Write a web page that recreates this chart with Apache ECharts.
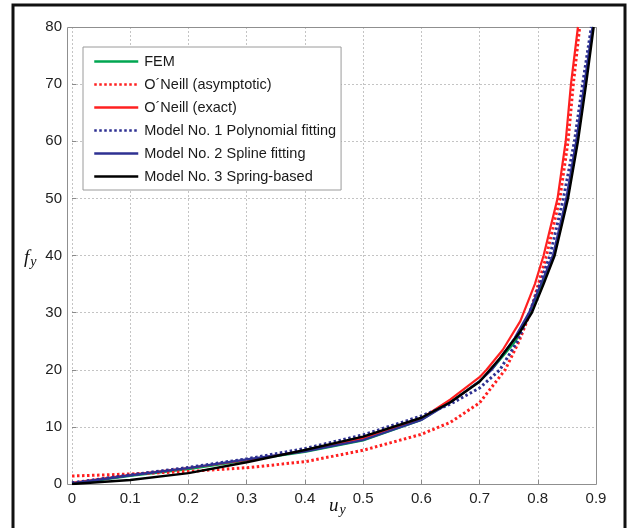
<!DOCTYPE html>
<html>
<head>
<meta charset="utf-8">
<title>f_y vs u_y</title>
<script src="https://cdn.jsdelivr.net/npm/echarts@6/dist/echarts.min.js"></script>
<style>
    html, body { margin: 0; padding: 0; background: #fff; }
    #chart { width: 627px; height: 528px; }
</style>
</head>
<body>
<div id="chart"></div>
<script>
    // curve data, [u_y, f_y]
    var femPts = [[0, 0], [0.1, 1.4], [0.2, 2.6], [0.3, 4.1], [0.4, 5.6], [0.5, 7.6], [0.6, 11.2], [0.65, 14.4], [0.7, 18.0], [0.725, 20.5], [0.762, 25], [0.787, 30], [0.827, 40], [0.851, 50], [0.868, 60], [0.882, 70], [0.895, 80]];
    var asymPts = [[0, 1.4], [0.1, 1.75], [0.2, 2.2], [0.3, 2.85], [0.4, 3.9], [0.5, 5.9], [0.6, 8.7], [0.65, 10.8], [0.7, 14.2], [0.744, 20], [0.768, 25], [0.787, 30], [0.815, 40], [0.838, 50], [0.852, 60], [0.861, 70], [0.872, 80]];
    var exactPts = [[0, 0.2], [0.1, 1.6], [0.2, 2.8], [0.3, 4.2], [0.4, 5.8], [0.5, 8.0], [0.6, 11.5], [0.65, 14.8], [0.7, 18.7], [0.712, 20], [0.74, 23.5], [0.77, 28.5], [0.795, 35], [0.81, 40], [0.834, 50], [0.848, 60], [0.857, 70], [0.869, 80]];
    var model1Pts = [[0, 0.2], [0.1, 1.6], [0.2, 2.9], [0.3, 4.4], [0.4, 6.2], [0.5, 8.6], [0.6, 11.9], [0.65, 14.0], [0.7, 16.8], [0.735, 20], [0.765, 25], [0.786, 30], [0.821, 40], [0.844, 50], [0.863, 60], [0.877, 70], [0.892, 80]];
    var model2Pts = [[0, 0.1], [0.1, 1.5], [0.2, 2.8], [0.3, 4.3], [0.4, 5.7], [0.5, 7.7], [0.6, 11.2], [0.65, 14.3], [0.7, 18.0], [0.721, 20], [0.76, 25.5], [0.785, 30], [0.826, 40], [0.849, 50], [0.866, 60], [0.880, 70], [0.894, 80]];
    var model3Pts = [[0, 0], [0.1, 0.7], [0.2, 1.9], [0.3, 3.8], [0.4, 5.95], [0.5, 8.3], [0.6, 11.6], [0.65, 14.3], [0.7, 17.9], [0.735, 22], [0.77, 26.7], [0.79, 30], [0.81, 35], [0.829, 40], [0.852, 50], [0.869, 60], [0.883, 70], [0.896, 80]];

    var seriesNames = ['FEM', 'O\u00B4Neill (asymptotic)', 'O\u00B4Neill (exact)', 'Model No. 1 Polynomial fitting', 'Model No. 2 Spline fitting', 'Model No. 3 Spring-based'];
    var xTicks = { min: 0, max: 0.9, step: 0.1 };
    var yTicks = { min: 0, max: 80, step: 10 };

    (function () {
        'use strict';

        var chart = echarts.init(document.getElementById('chart'));
        var labelFont = 'Liberation Sans, Arial, sans-serif';
        var mathFont = 'Liberation Serif, Times New Roman, serif';
        var dotted = [2.5, 2.5];

        function lineSeries(name, pts, color, type, width) {
            return {
                name: name,
                type: 'line',
                data: pts,
                symbol: 'none',
                smooth: false,
                lineStyle: { color: color, width: width, type: type, join: 'round' },
                itemStyle: { color: color }
            };
        }

        function mathLabel(main, sub, left, top) {
            return {
                type: 'text',
                silent: true,
                left: left,
                top: top,
                style: {
                    text: '{m|' + main + '}{s|' + sub + '}',
                    rich: {
                        m: { fontFamily: mathFont, fontStyle: 'italic', fontSize: 19, fill: '#111' },
                        s: { fontFamily: mathFont, fontStyle: 'italic', fontSize: 14, fill: '#111', padding: [10, 0, 0, 1] }
                    }
                }
            };
        }

        var option = {
            backgroundColor: '#fff',
            animation: false,
            grid: { left: 72, right: 31, top: 27, bottom: 44 },
            xAxis: {
                type: 'value',
                min: xTicks.min,
                max: xTicks.max,
                interval: xTicks.step,
                axisLine: { show: false },
                axisTick: { show: true, inside: true, length: 4, lineStyle: { color: '#8a8a8a' } },
                axisLabel: { color: '#222', fontFamily: labelFont, fontSize: 15, margin: 7 },
                splitLine: { show: true, lineStyle: { color: '#c4c4c4', type: [2, 2], width: 1 } }
            },
            yAxis: {
                type: 'value',
                min: yTicks.min,
                max: yTicks.max,
                interval: yTicks.step,
                axisLine: { show: false },
                axisTick: { show: true, inside: true, length: 4, lineStyle: { color: '#8a8a8a' } },
                axisLabel: { color: '#222', fontFamily: labelFont, fontSize: 15, margin: 10 },
                splitLine: { show: true, lineStyle: { color: '#c4c4c4', type: [2, 2], width: 1 } }
            },
            legend: {
                orient: 'vertical',
                left: 83,
                top: 47,
                padding: [7, 5, 6, 10],
                itemWidth: 44,
                itemHeight: 14,
                itemGap: 8,
                backgroundColor: '#fff',
                borderColor: '#9a9a9a',
                borderWidth: 1,
                borderRadius: 0,
                itemStyle: { opacity: 0 },
                lineStyle: { width: 2.5 },
                textStyle: { color: '#1a1a1a', fontFamily: labelFont, fontSize: 14.5, padding: [0, 0, 0, 1] },
                data: seriesNames
            },
            series: [
                lineSeries(seriesNames[0], femPts, '#00a651', 'solid', 2),
                lineSeries(seriesNames[1], asymPts, '#ff2020', dotted, 3),
                lineSeries(seriesNames[2], exactPts, '#ff2020', 'solid', 2.2),
                lineSeries(seriesNames[3], model1Pts, '#2e3192', dotted, 3),
                lineSeries(seriesNames[4], model2Pts, '#2e3192', 'solid', 2.2),
                lineSeries(seriesNames[5], model3Pts, '#000000', 'solid', 2.4)
            ]
        };
        chart.setOption(option);

        // plot box and outer frame, placed from the axis scale
        var p0 = chart.convertToPixel({ gridIndex: 0 }, [xTicks.min, yTicks.min]);
        var p1 = chart.convertToPixel({ gridIndex: 0 }, [xTicks.max, yTicks.max]);
        var boxLeft = p0[0] - 5;

        chart.setOption({
            graphic: [
                {
                    type: 'rect',
                    silent: true,
                    z: 1,
                    shape: { x: boxLeft + 0.5, y: p1[1] + 0.5, width: p1[0] - boxLeft, height: p0[1] - p1[1] },
                    style: { fill: null, stroke: '#8f8f8f', lineWidth: 1 }
                },
                {
                    type: 'rect',
                    silent: true,
                    shape: { x: 13, y: 5, width: 612, height: 540 },
                    style: { fill: null, stroke: '#111', lineWidth: 3 }
                },
                mathLabel('f', 'y', 24, 248),
                mathLabel('u', 'y', 329, 496)
            ]
        });
    })();
</script>
</body>
</html>
